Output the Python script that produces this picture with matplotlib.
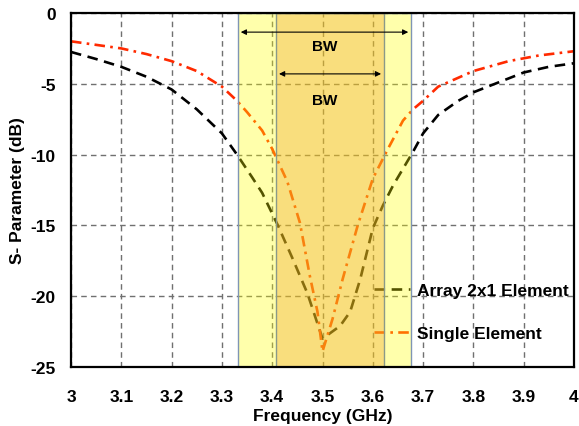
import matplotlib.pyplot as plt
import numpy as np

# Array 2x1 element (black dashed)
f_array = [3.00, 3.05, 3.10, 3.15, 3.20, 3.25, 3.30, 3.33, 3.36, 3.38, 3.41, 3.44, 3.47, 3.50,
           3.535, 3.555, 3.575, 3.60, 3.62, 3.64, 3.66, 3.68, 3.70, 3.73, 3.77, 3.80, 3.85,
           3.90, 3.95, 4.00]
s_array = [-2.75, -3.25, -3.8, -4.5, -5.4, -6.8, -8.5, -10.0, -11.6, -12.7, -14.9, -17.3, -19.8,
           -23.0, -22.1, -21.1, -18.8, -15.2, -13.6, -12.2, -11.0, -9.8, -8.5, -7.2, -6.2, -5.6,
           -4.9, -4.2, -3.8, -3.55]

# Single element (red dash-dot)
f_single = [3.00, 3.05, 3.10, 3.15, 3.20, 3.25, 3.30, 3.33, 3.35, 3.38, 3.40, 3.43, 3.455, 3.475,
            3.49, 3.50, 3.52, 3.54, 3.57, 3.60, 3.63, 3.66, 3.68, 3.70, 3.73, 3.80, 3.87, 3.93, 4.00]
s_single = [-2.0, -2.25, -2.5, -2.9, -3.4, -4.1, -5.2, -6.2, -7.0, -8.3, -9.6, -11.9, -14.8, -18.6,
            -21.1, -23.9, -21.6, -18.8, -15.0, -11.7, -9.6, -7.6, -6.8, -6.2, -5.2, -4.1, -3.4,
            -3.0, -2.7]

# -10 dB bandwidths
bw_array = (3.332, 3.676)
bw_single = (3.408, 3.622)

xticks = [3, 3.1, 3.2, 3.3, 3.4, 3.5, 3.6, 3.7, 3.8, 3.9, 4]
yticks = [0, -5, -10, -15, -20, -25]

plt.rcParams['font.family'] = ['Liberation Sans', 'DejaVu Sans']
plt.rcParams['font.weight'] = 'bold'
plt.rcParams['axes.unicode_minus'] = False

fig = plt.figure(figsize=(5.79, 4.27), dpi=100)
ax = fig.add_axes([0.1226, 0.1382, 0.8688, 0.829])

ax.plot(f_array, s_array, color='black', lw=1.9, dashes=(4, 2.5), label='Array 2x1 Element', zorder=3)
ax.plot(f_single, s_single, color='#ff2a00', lw=1.9, dashes=(4, 2, 1, 2), label='Single Element', zorder=3)

# shaded bandwidth regions, drawn over the curves
ax.axvspan(*bw_array, facecolor=(1, 1, 0, 0.33), edgecolor='#7f95b5', lw=1, zorder=6)
ax.axvspan(*bw_single, facecolor=(0.94, 0.63, 0.16, 0.35), edgecolor='#8a9a88', lw=1, zorder=7)

# bandwidth arrows
ax.annotate('', xy=(bw_array[0], -1.35), xytext=(bw_array[1], -1.35),
            arrowprops=dict(arrowstyle='<|-|>', color='black', lw=0.8, mutation_scale=8), zorder=8)
ax.annotate('', xy=(bw_single[0], -4.3), xytext=(bw_single[1], -4.3),
            arrowprops=dict(arrowstyle='<|-|>', color='black', lw=0.8, mutation_scale=8), zorder=8)
ax.text(3.505, -2.3, 'BW', ha='center', va='center', fontsize=11, fontweight='bold', zorder=9)
ax.text(3.505, -6.15, 'BW', ha='center', va='center', fontsize=11, fontweight='bold', zorder=9)

ax.set_xlim(3, 4)
ax.set_ylim(-25, 0)
ax.set_xticks(xticks)
ax.set_xticklabels([f'{t:g}' for t in xticks])
ax.set_yticks(yticks)
ax.tick_params(length=0, labelsize=12.5)
ax.tick_params(axis='x', pad=16)
ax.tick_params(axis='y', pad=11)
for lab in ax.get_xticklabels() + ax.get_yticklabels():
    lab.set_fontweight('bold')
ax.grid(True, color='#707070', lw=1, dashes=(4, 3), zorder=1)
for sp in ax.spines.values():
    sp.set_linewidth(1.6)
    sp.set_zorder(10)

ax.set_xlabel('Frequency (GHz)', fontsize=12.5, fontweight='bold', labelpad=3)
ax.set_ylabel('S- Parameter (dB)', fontsize=12.5, fontweight='bold', labelpad=4)

leg = ax.legend(loc='upper left', bbox_to_anchor=(0.585, 0.262), frameon=False, fontsize=12.5,
                handlelength=2.1, handletextpad=0.4, labelspacing=1.6, borderpad=0)
leg.set_zorder(5)

fig.savefig('out.png', dpi=100)
